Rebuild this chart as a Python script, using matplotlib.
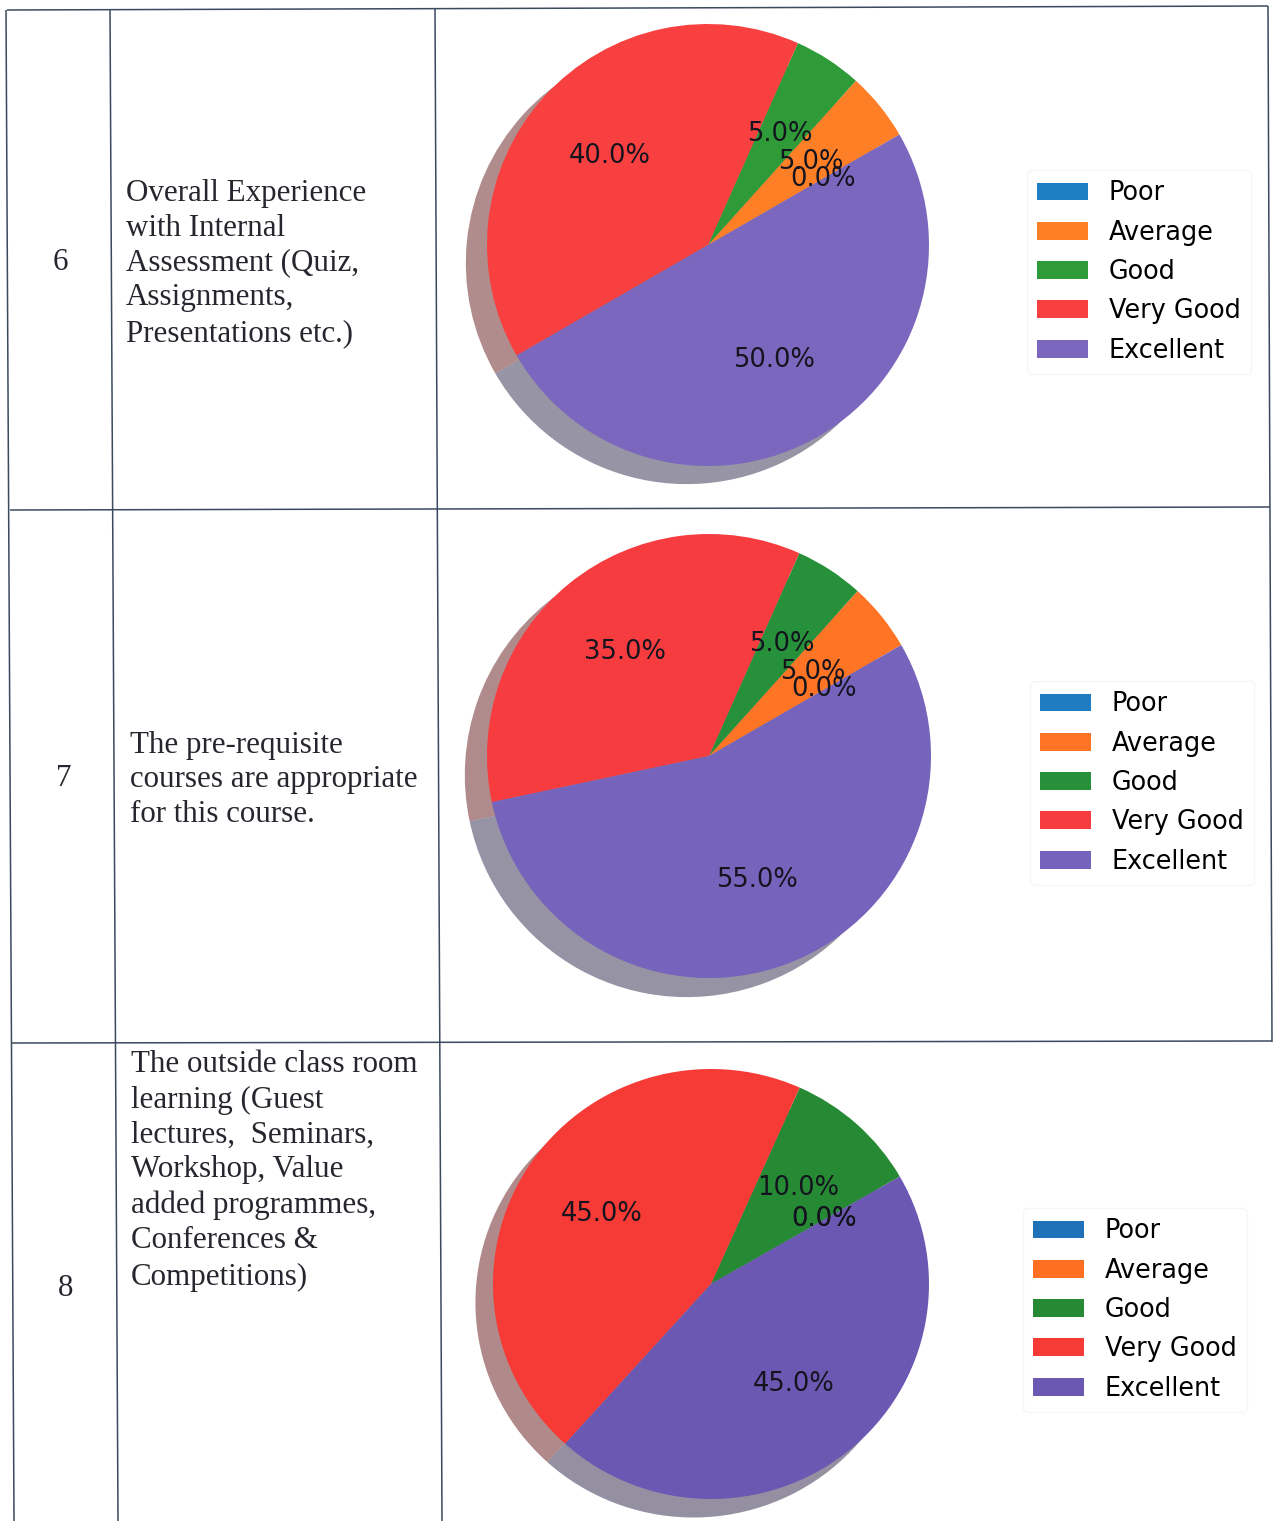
import matplotlib
matplotlib.use("Agg")
import matplotlib.pyplot as plt

W, H = 1273, 1521
labels = ["Poor", "Average", "Good", "Very Good", "Excellent"]
colors_q6 = ["#1F7FC4", "#FF7F27", "#2E9A38", "#F94040", "#7B68BE"]
colors_q7 = ["#1F7CC0", "#FF7425", "#26903A", "#F73C40", "#7563BC"]
colors_q8 = ["#1F72B8", "#FF6F22", "#268A34", "#F63A36", "#6A58B2"]
q6_values = [0, 5, 5, 40, 50]
q7_values = [0, 5, 5, 35, 55]
q8_values = [0, 0, 10, 45, 45]
row_numbers = ["6", "7", "8"]
q6_text = ["Overall Experience", "with Internal", "Assessment (Quiz,", "Assignments,", "Presentations etc.)"]
q7_text = ["The pre-requisite", "courses are appropriate", "for this course."]
q8_text = ["The outside class room", "learning (Guest", "lectures,  Seminars,", "Workshop, Value",
           "added programmes,", "Conferences &", "Competitions)"]

fig = plt.figure(figsize=(W / 100, H / 100), dpi=100, facecolor="white")
bg = fig.add_axes([0, 0, 1, 1])
bg.set_xlim(0, W); bg.set_ylim(H, 0); bg.axis("off")

rule = dict(color="#3C4A60", lw=1.1, solid_capstyle="butt")
bg.plot([7, 1268], [10, 6], **rule)
bg.plot([10, 1270], [510, 507], **rule)
bg.plot([12, 1272], [1043, 1041], **rule)
bg.plot([6, 14], [10, 1521], **rule)
bg.plot([110, 118], [10, 1521], **rule)
bg.plot([435, 442], [9, 1521], **rule)
bg.plot([1268, 1272], [6, 1042], **rule)

serif = dict(family="Liberation Serif", fontsize=22.3, color="#26262E", va="center", ha="left")
for s, x, y in zip(row_numbers, [53, 56, 58], [263, 779, 1288]):
    bg.text(x, y, s, **serif)
for lines, x, ys in [
    (q6_text, 126, [193, 228, 263, 298, 334]),
    (q7_text, 130, [745, 779, 814]),
    (q8_text, 131, [1065, 1100, 1135, 1170, 1205, 1241, 1277]),
]:
    for s, y in zip(lines, ys):
        bg.text(x, y, s, **serif)


def draw_pie(values, colors, cx, cy, rx, ry, sx, sy, legend_x, legend_y):
    pad = 1.3
    ax = fig.add_axes([(cx - pad * rx) / W, 1 - (cy + pad * ry) / H, 2 * pad * rx / W, 2 * pad * ry / H])
    wedges, _, _ = ax.pie(values, colors=colors, autopct="%1.1f%%", startangle=30,
                          shadow=dict(ox=sx, oy=sy, shade=0.6),
                          textprops=dict(fontsize=18.5, color="#14141E"),
                          wedgeprops=dict(lw=0))
    ax.set_aspect("auto")
    ax.set_xlim(-pad, pad); ax.set_ylim(-pad, pad)
    ax.legend(wedges, labels, fontsize=18.4, loc="center left", labelspacing=0.52,
              bbox_to_anchor=(legend_x / W, 1 - legend_y / H), bbox_transform=fig.transFigure,
              borderaxespad=0, framealpha=1, edgecolor="#F6F6F6")


draw_pie(q6_values, colors_q6, 708, 245, 221, 221, -0.069, -0.059, 1027, 272)
draw_pie(q7_values, colors_q7, 709, 756, 222, 222, -0.072, -0.062, 1030, 783)
draw_pie(q8_values, colors_q8, 711, 1284, 218, 215, -0.058, -0.062, 1023, 1310)

fig.savefig("out.png", dpi=100)
